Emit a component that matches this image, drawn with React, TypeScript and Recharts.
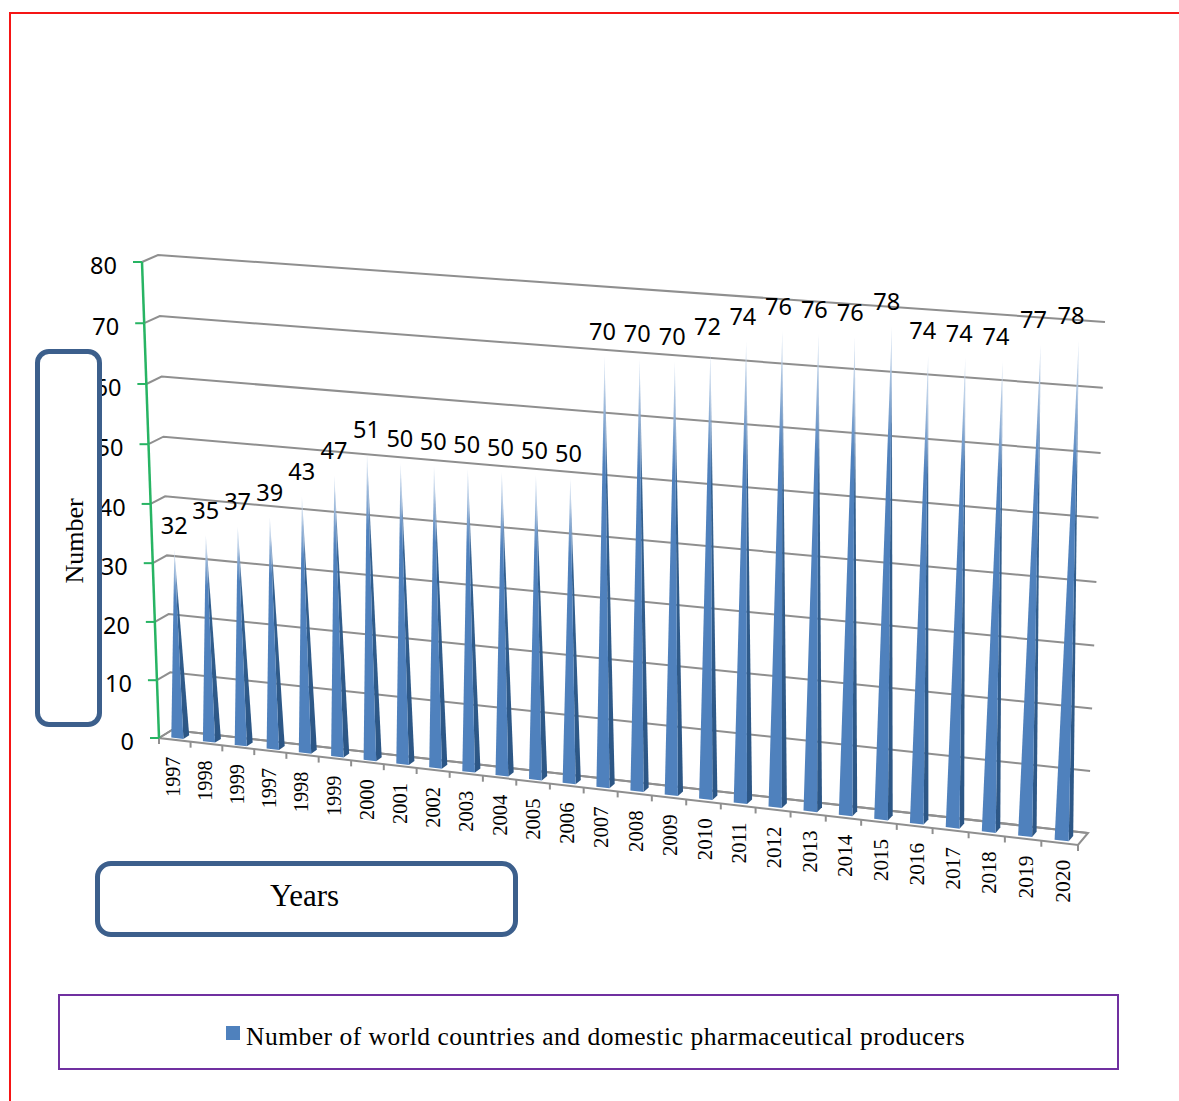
import React from 'react';
import { BarChart, Bar, XAxis, YAxis, CartesianGrid, LabelList, Legend, Customized } from 'recharts';

const years = ['1997', '1998', '1999', '1997', '1998', '1999', '2000', '2001', '2002', '2003', '2004', '2005', '2006', '2007', '2008', '2009', '2010', '2011', '2012', '2013', '2014', '2015', '2016', '2017', '2018', '2019', '2020'];
const producers = [32, 35, 37, 39, 43, 47, 51, 50, 50, 50, 50, 50, 50, 70, 70, 70, 72, 74, 76, 76, 76, 78, 74, 74, 74, 77, 78];
const yTicks = [0, 10, 20, 30, 40, 50, 60, 70, 80];
const seriesName = 'Number of world countries and domestic pharmaceutical producers';

const chartData = years.map((year, i) => ({ year, producers: producers[i] }));

const WIDTH = 1179;
const HEIGHT = 1101;
// flat plot rectangle that recharts lays out, later projected onto the 3D box
const X0 = 200;
const X1 = 1079;
const Y0 = 100;
const Y1 = 901;

type Pt = [number, number];

const homography = (p0: Pt, p1: Pt, p2: Pt, p3: Pt) => {
  const dx1 = p1[0] - p2[0];
  const dx2 = p3[0] - p2[0];
  const sx = p0[0] - p1[0] + p2[0] - p3[0];
  const dy1 = p1[1] - p2[1];
  const dy2 = p3[1] - p2[1];
  const sy = p0[1] - p1[1] + p2[1] - p3[1];
  const den = dx1 * dy2 - dx2 * dy1;
  const g = (sx * dy2 - dx2 * sy) / den;
  const h = (dx1 * sy - sx * dy1) / den;
  const a = p1[0] - p0[0] + g * p1[0];
  const b = p3[0] - p0[0] + h * p3[0];
  const d = p1[1] - p0[1] + g * p1[1];
  const e = p3[1] - p0[1] + h * p3[1];
  return (u: number, v: number): Pt => {
    const w = g * u + h * v + 1;
    return [(a * u + b * v + p0[0]) / w, (d * u + e * v + p0[1]) / w];
  };
};

const wall = homography([158, 255], [1105, 322], [1088, 833], [172, 730]);
const front = homography([142, 262], [1093, 333], [1078, 845], [159, 738]);

const toU = (x: number) => (x - X0) / (X1 - X0);
const toV = (y: number) => (y - Y0) / (Y1 - Y0);

// depth 0 is the back wall, depth 1 the front edge of the floor
const project = (u: number, v: number, depth: number): Pt => {
  const a = wall(u, v);
  const b = front(u, v);
  return [a[0] + (b[0] - a[0]) * depth, a[1] + (b[1] - a[1]) * depth];
};

const pts = (list: Pt[]) => list.map((p) => `${p[0].toFixed(1)},${p[1].toFixed(1)}`).join(' ');

const GRID = '#8f8f8f';
const GREEN = '#27b463';
const BOX = '#3c5f8c';
const SERIF = '"Liberation Serif", serif';
const LABEL_FONT = '"Noto Sans", sans-serif';

const GridRow = (props: any) => {
  const v = toV(props.y1);
  return (
    <polyline
      key={props.key}
      points={pts([front(0, v), wall(0, v), wall(1, v)])}
      fill="none"
      stroke={GRID}
      strokeWidth={2}
    />
  );
};

const Floor = () => (
  <polygon points={pts([wall(0, 1), wall(1, 1), front(1, 1), front(0, 1)])} fill="none" stroke={GRID} strokeWidth={2} />
);

const Cone = (props: any) => {
  const { x, y, width } = props;
  const left = toU(x);
  const right = toU(x + width);
  const apex = project(toU(x + width / 2), toV(y), 0.575);
  const fl = project(left, 1, 0.8);
  const fr = project(right, 1, 0.8);
  const br = project(right, 1, 0.35);
  return (
    <g>
      <polygon points={pts([fr, br, apex])} fill="url(#coneSide)" />
      <polygon points={pts([fl, fr, apex])} fill="url(#coneFront)" />
    </g>
  );
};

const ValueLabel = (props: any) => {
  const { x, y, width, value } = props;
  const u = toU(x + width / 2);
  const apex = project(u, toV(y), 0.575);
  return (
    <text
      x={apex[0] - 8 * u * u}
      y={apex[1] - 25}
      textAnchor="middle"
      dominantBaseline="central"
      fontFamily={LABEL_FONT}
      fontSize={23.5}
      fill="#000"
    >
      {value}
    </text>
  );
};

const YearTick = (props: any) => {
  const { index, payload } = props;
  const n = years.length;
  const mid = (index + 0.5) / n;
  const foot = front(mid, 1);
  const mark = (u: number) => {
    const p = front(u, 1);
    return <line x1={p[0]} y1={p[1]} x2={p[0]} y2={p[1] + 6} stroke={GRID} strokeWidth={2} />;
  };
  const tx = foot[0] - 2 + 5 * mid;
  const ty = foot[1] + 17;
  return (
    <g>
      {mark(index / n)}
      {index === n - 1 && mark(1)}
      <text
        transform={`translate(${tx},${ty}) rotate(-90)`}
        textAnchor="end"
        dominantBaseline="central"
        style={{ fontFamily: SERIF, fontSize: 20 + 1.5 * mid }}
        fill="#000"
      >
        {payload.value}
      </text>
    </g>
  );
};

const ValueTick = (props: any) => {
  const { y, payload } = props;
  const v = toV(y);
  const p = front(0, v);
  const next = front(0, v - 0.125);
  return (
    <g>
      {payload.value < 80 && <line x1={p[0]} y1={p[1]} x2={next[0]} y2={next[1]} stroke={GREEN} strokeWidth={2.5} />}
      <line x1={p[0] - 9} y1={p[1]} x2={p[0]} y2={p[1]} stroke={GREEN} strokeWidth={2} />
      <text
        x={p[0] - 25}
        y={p[1] + 3}
        textAnchor="end"
        dominantBaseline="central"
        fontFamily={LABEL_FONT}
        fontSize={23.5}
        fill="#000"
      >
        {payload.value}
      </text>
    </g>
  );
};

const LegendLine = (props: any) => {
  const item = props.payload && props.payload[0];
  if (!item) return null;
  return (
    <div style={{ display: 'flex', alignItems: 'center', fontFamily: SERIF, fontSize: 25.5, letterSpacing: 0.5, color: '#000', whiteSpace: 'nowrap' }}>
      <span style={{ width: 14, height: 14, background: item.color, marginRight: 6, marginTop: -8 }} />
      <span>{item.value}</span>
    </div>
  );
};

const Gradients = () => (
  <defs>
    <linearGradient id="coneFront" x1="0" y1="0" x2="0" y2="1">
      <stop offset="0" stopColor="#dfe9f5" />
      <stop offset="0.1" stopColor="#a5c0df" />
      <stop offset="0.25" stopColor="#4f81bd" />
      <stop offset="1" stopColor="#4f81bd" />
    </linearGradient>
    <linearGradient id="coneSide" x1="0" y1="0" x2="0" y2="1">
      <stop offset="0" stopColor="#dfe9f5" />
      <stop offset="0.12" stopColor="#8fabcf" />
      <stop offset="0.3" stopColor="#33608f" />
      <stop offset="1" stopColor="#2c5685" />
    </linearGradient>
  </defs>
);

const boxStyle: React.CSSProperties = {
  position: 'absolute',
  boxSizing: 'border-box',
  background: '#fff',
  border: `5px solid ${BOX}`,
  display: 'flex',
  alignItems: 'center',
  justifyContent: 'center',
  fontFamily: SERIF,
  color: '#000',
};

export default function App() {
  return (
    <div style={{ position: 'absolute', left: 0, top: 0, width: WIDTH, height: HEIGHT, background: '#fff', overflow: 'hidden' }}>
      <div style={{ position: 'absolute', left: 9, top: 12, right: 0, bottom: 0, borderTop: '2px solid #f51515', borderLeft: '2px solid #f51515' }} />
      <div style={{ position: 'absolute', left: 0, top: 0 }}>
        <BarChart
          width={WIDTH}
          height={HEIGHT}
          data={chartData}
          margin={{ top: Y0, right: WIDTH - X1, bottom: HEIGHT - Y1 - 40, left: X0 - 60 }}
          barSize={12.5}
        >
          <Customized component={Gradients} />
          <CartesianGrid horizontal={GridRow} vertical={false} />
          <Customized component={Floor} />
          <XAxis dataKey="year" interval={0} height={40} axisLine={false} tickLine={false} tick={YearTick} />
          <YAxis width={60} domain={[0, 80]} ticks={yTicks} axisLine={false} tickLine={false} tick={ValueTick} />
          <Legend
            layout="horizontal"
            verticalAlign="middle"
            wrapperStyle={{ position: 'absolute', left: 226, top: 1022, width: 760, height: 34 }}
            content={LegendLine}
          />
          <Bar dataKey="producers" name={seriesName} fill="#4f81bd" shape={Cone} isAnimationActive={false}>
            <LabelList dataKey="producers" content={ValueLabel} />
          </Bar>
        </BarChart>
      </div>
      <div style={{ ...boxStyle, left: 35, top: 349, width: 67, height: 378, borderRadius: 14 }}>
        <span style={{ transform: 'translate(6px, 3px) rotate(-90deg)', fontSize: 26, display: 'block' }}>Number</span>
      </div>
      <div style={{ ...boxStyle, left: 95, top: 861, width: 423, height: 76, borderRadius: 16, fontSize: 31 }}>
        <span style={{ transform: 'translate(-2px, -3px)' }}>Years</span>
      </div>
      <div style={{ position: 'absolute', boxSizing: 'border-box', left: 58, top: 994, width: 1061, height: 76, border: '2px solid #7030a0' }} />
    </div>
  );
}
